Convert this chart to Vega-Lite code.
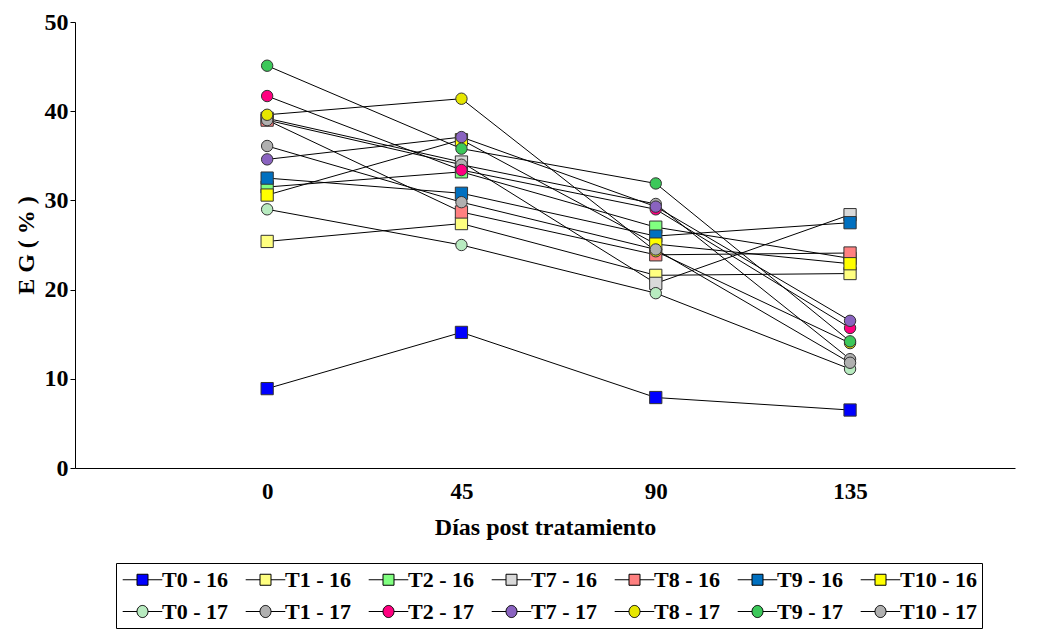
{
  "$schema": "https://vega.github.io/schema/vega-lite/v6.json",
  "width": 940,
  "height": 446,
  "autosize": {"type": "none"},
  "padding": {"left": 75, "top": 22, "right": 28, "bottom": 163},
  "background": "white",
  "config": {
    "view": {"stroke": null},
    "font": "Liberation Serif",
    "axis": {"grid": false, "domainColor": "#000", "tickColor": "#000", "labelColor": "#000", "titleColor": "#000", "labelFont": "Liberation Serif", "titleFont": "Liberation Serif", "labelFontWeight": "bold", "titleFontWeight": "bold"}
  },
  "data": {
    "values": [
      {"series": "T0 - 16", "kind": "sq", "day": 0, "eg": 8.9},
      {"series": "T0 - 16", "kind": "sq", "day": 45, "eg": 15.2},
      {"series": "T0 - 16", "kind": "sq", "day": 90, "eg": 7.9},
      {"series": "T0 - 16", "kind": "sq", "day": 135, "eg": 6.5},
      {"series": "T1 - 16", "kind": "sq", "day": 0, "eg": 25.4},
      {"series": "T1 - 16", "kind": "sq", "day": 45, "eg": 27.4},
      {"series": "T1 - 16", "kind": "sq", "day": 90, "eg": 21.6},
      {"series": "T1 - 16", "kind": "sq", "day": 135, "eg": 21.8},
      {"series": "T2 - 16", "kind": "sq", "day": 0, "eg": 31.5},
      {"series": "T2 - 16", "kind": "sq", "day": 45, "eg": 33.2},
      {"series": "T2 - 16", "kind": "sq", "day": 90, "eg": 27.0},
      {"series": "T2 - 16", "kind": "sq", "day": 135, "eg": 23.5},
      {"series": "T7 - 16", "kind": "sq", "day": 0, "eg": 39.2},
      {"series": "T7 - 16", "kind": "sq", "day": 45, "eg": 34.3},
      {"series": "T7 - 16", "kind": "sq", "day": 90, "eg": 20.7},
      {"series": "T7 - 16", "kind": "sq", "day": 135, "eg": 28.4},
      {"series": "T8 - 16", "kind": "sq", "day": 0, "eg": 39.0},
      {"series": "T8 - 16", "kind": "sq", "day": 45, "eg": 28.7},
      {"series": "T8 - 16", "kind": "sq", "day": 90, "eg": 23.9},
      {"series": "T8 - 16", "kind": "sq", "day": 135, "eg": 24.1},
      {"series": "T9 - 16", "kind": "sq", "day": 0, "eg": 32.5},
      {"series": "T9 - 16", "kind": "sq", "day": 45, "eg": 30.8},
      {"series": "T9 - 16", "kind": "sq", "day": 90, "eg": 26.0},
      {"series": "T9 - 16", "kind": "sq", "day": 135, "eg": 27.5},
      {"series": "T10 - 16", "kind": "sq", "day": 0, "eg": 30.6},
      {"series": "T10 - 16", "kind": "sq", "day": 45, "eg": 36.8},
      {"series": "T10 - 16", "kind": "sq", "day": 90, "eg": 25.1},
      {"series": "T10 - 16", "kind": "sq", "day": 135, "eg": 22.9},
      {"series": "T0 - 17", "kind": "ci", "day": 0, "eg": 29.0},
      {"series": "T0 - 17", "kind": "ci", "day": 45, "eg": 25.0},
      {"series": "T0 - 17", "kind": "ci", "day": 90, "eg": 19.6},
      {"series": "T0 - 17", "kind": "ci", "day": 135, "eg": 11.1},
      {"series": "T1 - 17", "kind": "ci", "day": 0, "eg": 39.0},
      {"series": "T1 - 17", "kind": "ci", "day": 45, "eg": 34.0},
      {"series": "T1 - 17", "kind": "ci", "day": 90, "eg": 29.6},
      {"series": "T1 - 17", "kind": "ci", "day": 135, "eg": 12.2},
      {"series": "T2 - 17", "kind": "ci", "day": 0, "eg": 41.7},
      {"series": "T2 - 17", "kind": "ci", "day": 45, "eg": 33.4},
      {"series": "T2 - 17", "kind": "ci", "day": 90, "eg": 29.0},
      {"series": "T2 - 17", "kind": "ci", "day": 135, "eg": 15.7},
      {"series": "T7 - 17", "kind": "ci", "day": 0, "eg": 34.6},
      {"series": "T7 - 17", "kind": "ci", "day": 45, "eg": 37.1},
      {"series": "T7 - 17", "kind": "ci", "day": 90, "eg": 29.3},
      {"series": "T7 - 17", "kind": "ci", "day": 135, "eg": 16.5},
      {"series": "T8 - 17", "kind": "ci", "day": 0, "eg": 39.6},
      {"series": "T8 - 17", "kind": "ci", "day": 45, "eg": 41.4},
      {"series": "T8 - 17", "kind": "ci", "day": 90, "eg": 24.3},
      {"series": "T8 - 17", "kind": "ci", "day": 135, "eg": 14.0},
      {"series": "T9 - 17", "kind": "ci", "day": 0, "eg": 45.1},
      {"series": "T9 - 17", "kind": "ci", "day": 45, "eg": 35.8},
      {"series": "T9 - 17", "kind": "ci", "day": 90, "eg": 31.9},
      {"series": "T9 - 17", "kind": "ci", "day": 135, "eg": 14.2},
      {"series": "T10 - 17", "kind": "ci", "day": 0, "eg": 36.1},
      {"series": "T10 - 17", "kind": "ci", "day": 45, "eg": 29.8},
      {"series": "T10 - 17", "kind": "ci", "day": 90, "eg": 24.5},
      {"series": "T10 - 17", "kind": "ci", "day": 135, "eg": 11.8}
    ]
  },
  "encoding": {
    "x": {
      "field": "day", "type": "quantitative",
      "scale": {"domain": [-44.5, 173.2], "nice": false, "zero": false},
      "axis": {"values": [0, 45, 90, 135], "title": "Días post tratamiento", "labelFontSize": 23, "titleFontSize": 24, "ticks": false, "labelPadding": 12, "titlePadding": 12}
    },
    "y": {
      "field": "eg", "type": "quantitative",
      "scale": {"domain": [0, 50], "nice": false},
      "axis": {"values": [0, 10, 20, 30, 40, 50], "title": "E G  ( % )", "labelFontSize": 24, "titleFontSize": 24, "tickSize": 5, "labelPadding": 2, "titlePadding": 6}
    }
  },
  "layer": [
    {
      "mark": {"type": "line", "color": "#000", "strokeWidth": 1},
      "encoding": {"detail": {"field": "series", "type": "nominal"}}
    },
    {
      "transform": [{"filter": "false"}],
      "mark": {"type": "point", "filled": true, "opacity": 1, "stroke": "#000", "strokeWidth": 1},
      "encoding": {
        "fill": {
          "field": "series", "type": "nominal",
          "scale": {
            "domain": ["T0 - 16", "T1 - 16", "T2 - 16", "T7 - 16", "T8 - 16", "T9 - 16", "T10 - 16", "T0 - 17", "T1 - 17", "T2 - 17", "T7 - 17", "T8 - 17", "T9 - 17", "T10 - 17"],
            "range": ["#0000FF", "#FFFF80", "#80FF80", "#D9D9D9", "#FF8080", "#0070C0", "#FFFF00", "#B8EBC0", "#B0B0B0", "#FF0080", "#8A63C0", "#E6E600", "#3CC85A", "#B0B0B0"]
          },
          "legend": {
            "title": null, "orient": "none", "legendX": 41, "legendY": 541,
            "direction": "horizontal", "columns": 7, "gridAlign": "all",
            "columnPadding": 4, "rowPadding": 9, "padding": 5,
            "strokeColor": "#000",
            "labelFont": "Liberation Serif", "labelFontSize": 22, "labelFontWeight": "bold", "labelColor": "#000",
            "labelOffset": 8, "labelLimit": 200,
            "symbolSize": 484, "symbolStrokeColor": "#000", "symbolStrokeWidth": 1, "symbolOffset": 10, "symbolOpacity": 1
          }
        },
        "shape": {
          "field": "series", "type": "nominal",
          "scale": {
            "domain": ["T0 - 16", "T1 - 16", "T2 - 16", "T7 - 16", "T8 - 16", "T9 - 16", "T10 - 16", "T0 - 17", "T1 - 17", "T2 - 17", "T7 - 17", "T8 - 17", "T9 - 17", "T10 - 17"],
            "range": [
              "M-1.8,0H-0.5M0.5,0H1.8M-0.5,-0.5H0.5V0.5H-0.5Z",
              "M-1.8,0H-0.5M0.5,0H1.8M-0.5,-0.5H0.5V0.5H-0.5Z",
              "M-1.8,0H-0.5M0.5,0H1.8M-0.5,-0.5H0.5V0.5H-0.5Z",
              "M-1.8,0H-0.5M0.5,0H1.8M-0.5,-0.5H0.5V0.5H-0.5Z",
              "M-1.8,0H-0.5M0.5,0H1.8M-0.5,-0.5H0.5V0.5H-0.5Z",
              "M-1.8,0H-0.5M0.5,0H1.8M-0.5,-0.5H0.5V0.5H-0.5Z",
              "M-1.8,0H-0.5M0.5,0H1.8M-0.5,-0.5H0.5V0.5H-0.5Z",
              "M-1.8,0H-0.5M0.5,0H1.8M-0.5,0A0.5,0.55 0 1,0 0.5,0A0.5,0.55 0 1,0 -0.5,0Z",
              "M-1.8,0H-0.5M0.5,0H1.8M-0.5,0A0.5,0.55 0 1,0 0.5,0A0.5,0.55 0 1,0 -0.5,0Z",
              "M-1.8,0H-0.5M0.5,0H1.8M-0.5,0A0.5,0.55 0 1,0 0.5,0A0.5,0.55 0 1,0 -0.5,0Z",
              "M-1.8,0H-0.5M0.5,0H1.8M-0.5,0A0.5,0.55 0 1,0 0.5,0A0.5,0.55 0 1,0 -0.5,0Z",
              "M-1.8,0H-0.5M0.5,0H1.8M-0.5,0A0.5,0.55 0 1,0 0.5,0A0.5,0.55 0 1,0 -0.5,0Z",
              "M-1.8,0H-0.5M0.5,0H1.8M-0.5,0A0.5,0.55 0 1,0 0.5,0A0.5,0.55 0 1,0 -0.5,0Z",
              "M-1.8,0H-0.5M0.5,0H1.8M-0.5,0A0.5,0.55 0 1,0 0.5,0A0.5,0.55 0 1,0 -0.5,0Z"
            ]
          }
        }
      }
    },
    {
      "transform": [{"filter": "datum.kind === 'sq'"}],
      "mark": {"type": "point", "shape": "square", "filled": true, "opacity": 1, "size": 150, "stroke": "#333", "strokeWidth": 1},
      "encoding": {"fill": {"field": "series", "type": "nominal", "legend": null}}
    },
    {
      "transform": [{"filter": "datum.kind === 'ci'"}],
      "mark": {"type": "point", "shape": "circle", "filled": true, "opacity": 1, "size": 130, "stroke": "#333", "strokeWidth": 1},
      "encoding": {"fill": {"field": "series", "type": "nominal", "legend": null}}
    }
  ]
}
